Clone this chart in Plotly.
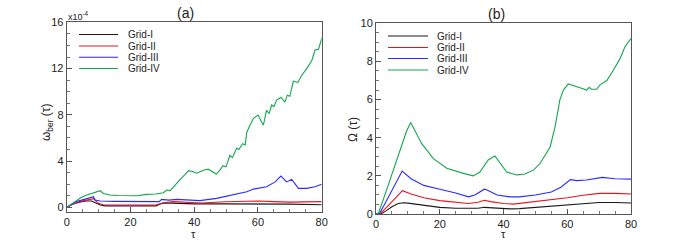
import plotly.graph_objects as go

# ---------------- data ----------------
names = ["Grid-I", "Grid-II", "Grid-III", "Grid-IV"]
colors = ["#1a1a1a", "#e8141c", "#2b2bff", "#14a64c"]

# panel (a): omega_ber (x1e-4)
tau_a_I = [0, 1, 2, 4, 6, 7.8, 9, 10.5, 12, 20, 28, 29, 30, 33, 40, 50, 60, 70, 80]
om_a_I = [0, 0.15, 0.3, 0.45, 0.55, 0.55, 0.4, 0.2, 0.13, 0.12, 0.13, 0.25, 0.35, 0.37, 0.3, 0.3, 0.3, 0.28, 0.23]

tau_a_II = [0, 1, 2, 4, 6, 8.4, 9.9, 11.5, 20, 28, 29, 30.3, 33.5, 36, 42, 50, 60, 65, 70, 80]
om_a_II = [0, 0.15, 0.3, 0.5, 0.62, 0.75, 0.35, 0.23, 0.2, 0.2, 0.3, 0.4, 0.5, 0.45, 0.38, 0.48, 0.55, 0.5, 0.45, 0.5]

tau_a_III = [0, 1, 2, 3, 5, 6.8, 8.4, 8.9, 10.5, 15, 20, 28, 29, 29.8, 32, 34.5, 38, 41.8, 47, 52.3,
             56.5, 58.6, 62.7, 65.4, 67.2, 69, 70.6, 72.7, 75.3, 77.9, 79.5, 80]
om_a_III = [0, 0.15, 0.35, 0.5, 0.65, 0.78, 0.92, 0.63, 0.55, 0.52, 0.5, 0.48, 0.5, 0.69, 0.63, 0.69,
            0.62, 0.58, 0.78, 1.07, 1.35, 1.58, 1.78, 2.2, 2.7, 2.2, 2.42, 1.64, 1.64, 1.78, 1.93, 2.0]

tau_a_IV = [0, 1, 2, 3.1, 4.5, 6.3, 8, 9.4, 10.5, 11.5, 13.6, 16, 19.9, 22, 25, 28, 30.3, 31.4, 32.5,
            33.5, 35.6, 37, 38.2, 39.5, 40.8, 42, 43.1, 44.4, 45.5, 46.9, 48, 49, 50, 51.2, 52, 53.3,
            54, 55.2, 56, 56.5, 57.5, 58.6, 60, 61, 61.7, 62.7, 63.5, 64.3, 65, 65.9, 67.2, 68.5,
            69.2, 70, 71.1, 72.5, 73.7, 75.3, 76.9, 77.9, 79, 80]
om_a_IV = [0, 0.2, 0.4, 0.63, 0.85, 1.07, 1.2, 1.3, 1.44, 1.2, 1.07, 1.02, 0.98, 1.0, 1.12, 1.15,
           1.27, 1.5, 1.45, 1.79, 2.42, 2.8, 3.17, 3.1, 2.95, 3.1, 3.23, 3.3, 3.1, 2.88, 3.2, 3.6,
           3.5, 4.5, 4.3, 5.1, 5.0, 5.5, 5.4, 6.5, 7.1, 7.7, 7.98, 7.5, 7.1, 8.4, 8.1, 8.85, 8.7,
           9.3, 9.5, 9.1, 9.7, 9.6, 10.9, 10.8, 11.4, 12.0, 12.7, 13.6, 13.66, 14.6]

# panel (b): Omega
tau_b_I = [0, 1.5, 3, 5, 7, 8.7, 10, 12, 15, 20, 25, 30, 32, 34, 36, 38, 42, 45, 50, 55, 60, 65, 70, 75, 80]
om_b_I = [0, 0, 0.15, 0.38, 0.55, 0.59, 0.57, 0.52, 0.45, 0.35, 0.3, 0.28, 0.3, 0.35, 0.33, 0.3,
          0.27, 0.28, 0.35, 0.42, 0.48, 0.55, 0.6, 0.6, 0.58]

tau_b_II = [0, 1.2, 3, 5, 7, 8.3, 11, 15, 20, 25, 29, 32, 34, 36, 40, 43, 50, 55, 60, 65, 70, 75, 80]
om_b_II = [0, 0, 0.3, 0.65, 1.0, 1.22, 1.05, 0.85, 0.7, 0.6, 0.55, 0.62, 0.72, 0.65, 0.55, 0.52,
           0.65, 0.72, 0.85, 0.98, 1.08, 1.08, 1.05]

tau_b_III = [0, 1, 3, 5, 7, 8.2, 11, 15, 20, 25, 29, 31, 34, 35, 38, 42, 45, 50, 55, 58, 61, 63, 66, 71, 75, 80]
om_b_III = [0, 0, 0.6, 1.25, 1.85, 2.25, 1.85, 1.5, 1.3, 1.1, 0.9, 1.0, 1.3, 1.25, 1.0, 0.9, 0.9,
            1.0, 1.15, 1.4, 1.8, 1.75, 1.78, 1.92, 1.85, 1.83]

tau_b_IV = [0, 0.7, 3.3, 5.5, 7.5, 9.6, 10.9, 12.2, 14.3, 18, 22.2, 27.4, 30.5, 32.6, 35.2, 37.3,
            38.9, 41, 44.1, 46.7, 49.4, 51.5, 54.6, 56.2, 57.7, 58.8, 60.3, 61.4, 63.5, 66.1, 66.9,
            67.5, 69.2, 70.3, 72.4, 74.5, 76.6, 78.1, 80]
om_b_IV = [0, 0, 1.25, 2.3, 3.3, 4.35, 4.8, 4.4, 3.7, 2.9, 2.4, 2.13, 2.0, 2.2, 2.83, 3.04, 2.66,
           2.2, 2.05, 2.1, 2.3, 2.66, 3.5, 4.6, 6.0, 6.5, 6.82, 6.77, 6.65, 6.5, 6.64, 6.55, 6.54,
           6.77, 7.0, 7.55, 8.16, 8.77, 9.2]

x_ticks = [0, 20, 40, 60, 80]
ya_ticks = [0, 4, 8, 12, 16]
yb_ticks = [0, 2, 4, 6, 8, 10]

series_a = [(tau_a_I, om_a_I), (tau_a_II, om_a_II), (tau_a_III, om_a_III), (tau_a_IV, om_a_IV)]
series_b = [(tau_b_I, om_b_I), (tau_b_II, om_b_II), (tau_b_III, om_b_III), (tau_b_IV, om_b_IV)]

# ---------------- figure ----------------
FONT = "Liberation Sans, Arial, sans-serif"
fig = go.Figure()
for (t, v), n, c in zip(series_a, names, colors):
    fig.add_trace(go.Scatter(x=t, y=v, mode="lines", name=n, line=dict(color=c, width=1.1),
                             xaxis="x", yaxis="y", showlegend=False))
for (t, v), n, c in zip(series_b, names, colors):
    fig.add_trace(go.Scatter(x=t, y=v, mode="lines", name=n, line=dict(color=c, width=1.1),
                             xaxis="x2", yaxis="y2", showlegend=False))

axis_common = dict(showgrid=False, zeroline=False, showline=True, mirror=True, automargin=False,
                   linecolor="#555", linewidth=1, ticks="inside", ticklen=5, tickcolor="#555",
                   tickfont=dict(family=FONT, size=11, color="#222"))

W, H = 694, 241
fig.update_layout(
    width=W, height=H, margin=dict(l=0, r=0, t=0, b=0, autoexpand=False),
    paper_bgcolor="white", plot_bgcolor="white",
    font=dict(family=FONT, color="#222"),
    xaxis=dict(domain=[66.7 / W, 321.7 / W], range=[0, 80], tickvals=x_ticks,
               minor=dict(dtick=5, ticks="inside", ticklen=3, tickcolor="#777"),
               anchor="y", **axis_common),
    yaxis=dict(domain=[(H - 212) / H, (H - 22.3) / H], range=[-0.4, 16], tickvals=ya_ticks,
               minor=dict(dtick=1, ticks="inside", ticklen=3, tickcolor="#777"),
               anchor="x", **axis_common),
    xaxis2=dict(domain=[376 / W, 631 / W], range=[0, 80], tickvals=x_ticks,
                minor=dict(dtick=5, ticks="inside", ticklen=3, tickcolor="#777"),
                anchor="y2", **axis_common),
    yaxis2=dict(domain=[(H - 214) / H, (H - 23.3) / H], range=[0, 10], tickvals=yb_ticks,
                minor=dict(dtick=0.5, ticks="inside", ticklen=3, tickcolor="#777"),
                anchor="x2", **axis_common),
)

def label(text, x, y, size=12, angle=0, xanchor="center"):
    fig.add_annotation(text=text, x=x / W, y=1 - y / H, xref="paper", yref="paper",
                       xanchor=xanchor, yanchor="middle", showarrow=False, textangle=angle,
                       borderpad=0, font=dict(size=size, family=FONT, color="#222"))

# panel titles, axis titles, multiplier
label("(a)", 185, 13, size=14)
label("(b)", 496, 14, size=14)
label("τ", 193.5, 234, size=11)
label("τ", 503.5, 234, size=11)
label("ω<sub>ber</sub> (τ)", 47, 122, angle=-90)
label("Ω (τ)", 353, 130, angle=-90)
label("x10<sup>-4</sup>", 67, 16, size=9, xanchor="left")

# legends (keys + labels)
legend_specs = [(79, 118, 127, [34.5, 46, 57.3, 68.5]), (388, 428, 436, [36, 47.5, 58.5, 70])]
for x0, x1, xt, ys in legend_specs:
    for n, c, yy in zip(names, colors, ys):
        fig.add_shape(type="line", xref="paper", yref="paper", x0=x0 / W, x1=x1 / W,
                      y0=1 - yy / H, y1=1 - yy / H, line=dict(color=c, width=1.1))
        label(n, xt, yy, size=10, xanchor="left")

fig.write_html("out.html", config={"displayModeBar": False},
               post_script="document.body.style.margin='0';document.body.style.overflow='hidden';")
